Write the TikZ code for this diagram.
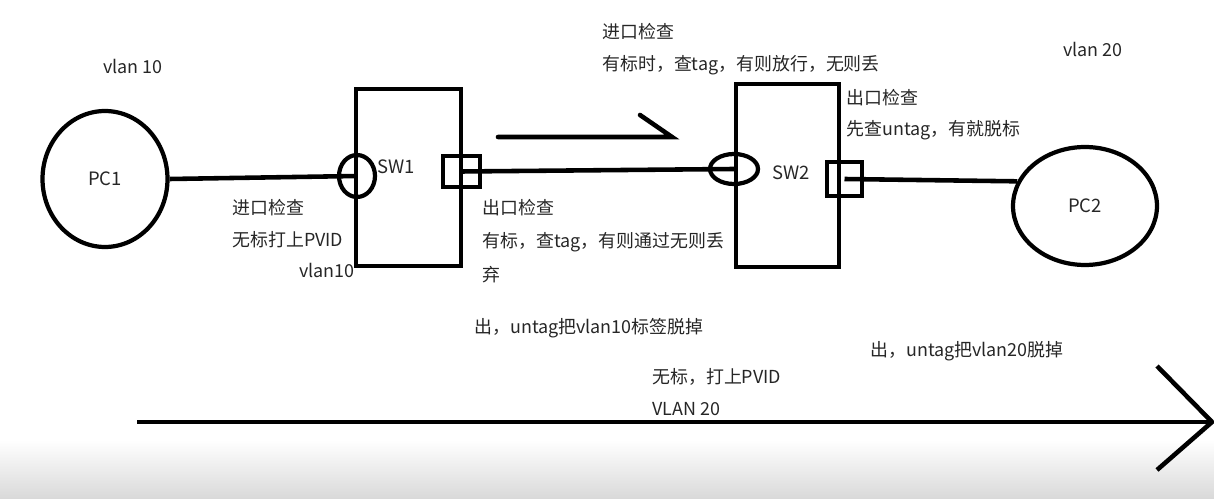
\documentclass[tikz,border=0pt]{standalone}
\usepackage{fontspec}
\setmainfont{Noto Sans CJK SC}
\usetikzlibrary{shapes.geometric, positioning}

\begin{document}
\begin{tikzpicture}[x=0.02cm, y=-0.02cm,
  host/.style={ellipse, draw, line width=2.4pt, inner sep=0pt, text=black!85, font=\fontsize{10.5}{12}\selectfont},
  switchbox/.style={rectangle, draw, line width=2.8pt, inner sep=0pt},
  tagport/.style={ellipse, draw, line width=2.4pt, inner sep=0pt},
  outport/.style={rectangle, draw, line width=2.4pt, inner sep=0pt},
  note/.style={anchor=west, inner sep=0pt, text=black!85, font=\fontsize{10.2}{12}\selectfont},
  link/.style={line width=2.6pt},
]
\useasboundingbox (0,0) rectangle (1214,499);
\shade[top color=white, bottom color=gray!30] (0,440) rectangle (1214,499);

% hosts
\node[host, minimum width=2.5cm, minimum height=2.72cm] (pc1) at (105,179) {PC1};
\node[host, minimum width=2.88cm, minimum height=2.36cm] (pc2) at (1085,206) {PC2};

% switches
\node[switchbox, minimum width=2.1cm, minimum height=3.54cm] (sw1) at (408.5,177.5) {};
\node[switchbox, minimum width=2.06cm, minimum height=3.66cm] (sw2) at (787.5,175.5) {};
\node[note, font=\fontsize{10.5}{12}\selectfont] (sw1name) at (377,167) {SW1};
\node[note, font=\fontsize{10.5}{12}\selectfont] (sw2name) at (772,173) {SW2};

% ports
\node[tagport, minimum width=0.72cm, minimum height=0.84cm] (sw1in) at (357,176) {};
\node[outport, minimum width=0.74cm, minimum height=0.62cm] (sw1out) at (461.5,171.5) {};
\node[tagport, minimum width=0.96cm, minimum height=0.6cm] (sw2in) at (734,169) {};
\node[outport, minimum width=0.7cm, minimum height=0.68cm] (sw2out) at (844.5,179) {};

% links
\draw[link] (pc1.east) -- (sw1in.center);
\draw[link] (sw1out.center) -- (sw2in.center);
\draw[link] (sw2out.center) -- (pc2.160);

% direction of the frame
\coordinate (flowtail) at (498,137);
\coordinate (flowhead) at (672,137);
\draw[link, line cap=round] (flowtail) -- (flowhead) -- ++(-32,-22);

\coordinate (dirtail) at (137,422);
\coordinate (dirhead) at (1212,422);
\draw[link] (dirtail) -- (dirhead);
\draw[link] (dirhead) ++(-55,-56) -- (dirhead) -- ++(-55,48);

% notes
\node[note] (vl10) at (103,66) {vlan 10};
\node[note] (vl20) at (1063,49) {vlan 20};

\node[note] (in1t) at (232,208) {进口检查};
\node[note] (in1d) at (232,240) {无标打上PVID};
\node[note, anchor=east] (sw1vl) at (355,270) {vlan10};

\node[note] (out1t) at (482,208) {出口检查};
\node[note] (out1d) at (482,242) {有标，查tag，有则通过无则丢};
\node[note] (out1e) at (482,275) {弃};

\node[note] (in2t) at (602,32) {进口检查};
\node[note] (in2d) at (602,65) {有标时，查tag，有则放行，无则丢};

\node[note] (out2t) at (846,98) {出口检查};
\node[note] (out2d) at (846,130) {先查untag，有就脱标};

\node[note] (strip1) at (474,328) {出，untag把vlan10标签脱掉};
\node[note] (strip2) at (870,351) {出，untag把vlan20脱掉};
\node[note] (push2) at (652,377) {无标，打上PVID};
\node[note] (push2vl) at (652,409) {VLAN 20};

\end{tikzpicture}
\end{document}
